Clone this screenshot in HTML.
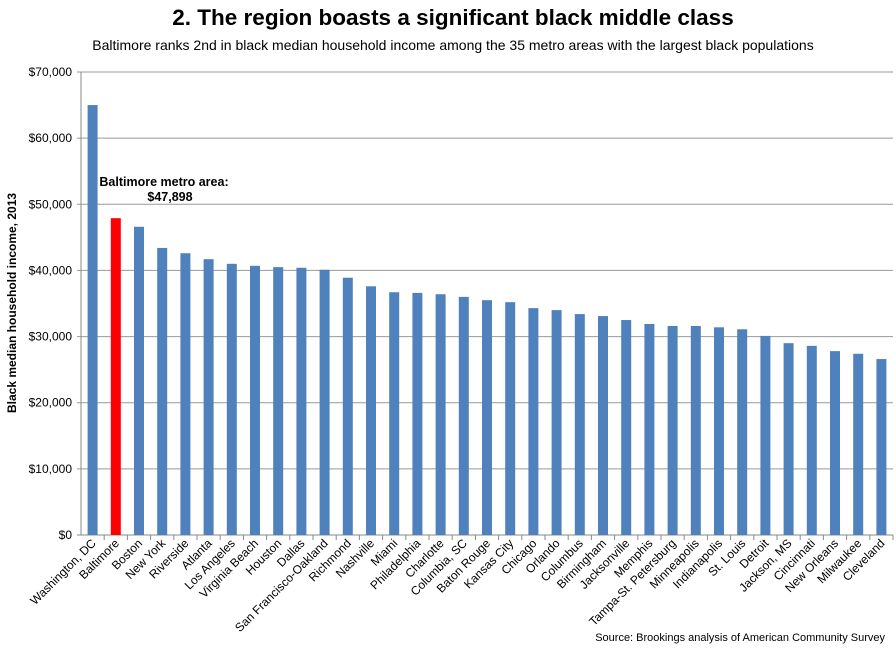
<!DOCTYPE html>
<html><head><meta charset="utf-8"><style>
body{margin:0;background:#fff;width:896px;height:648px;overflow:hidden}
svg{font-family:"Liberation Sans",Arial,sans-serif}
</style></head><body>
<svg id="chart" width="896" height="648">
<text x="453" y="25" text-anchor="middle" font-size="22.5" font-weight="bold">2. The region boasts a significant black middle class</text>
<text x="453" y="50" text-anchor="middle" font-size="14">Baltimore ranks 2nd in black median household income among the 35 metro areas with the largest black populations</text>
<text transform="translate(16,303) rotate(-90)" text-anchor="middle" font-size="12" font-weight="bold">Black median household income, 2013</text>
<text x="885" y="641" text-anchor="end" font-size="11">Source: Brookings analysis of American Community Survey</text>
<text x="164" y="186" text-anchor="middle" font-size="12.5" font-weight="bold">Baltimore metro area:</text>
<text x="170" y="201" text-anchor="middle" font-size="12.5" font-weight="bold">$47,898</text>
<g id="grid"></g><g id="bars"></g><g id="axes"></g>
</svg>
<script>
const categories=["Washington, DC","Baltimore","Boston","New York","Riverside","Atlanta","Los Angeles","Virginia Beach","Houston","Dallas","San Francisco-Oakland","Richmond","Nashville","Miami","Philadelphia","Charlotte","Columbia, SC","Baton Rouge","Kansas City","Chicago","Orlando","Columbus","Birmingham","Jacksonville","Memphis","Tampa-St. Petersburg","Minneapolis","Indianapolis","St. Louis","Detroit","Jackson, MS","Cincinnati","New Orleans","Milwaukee","Cleveland"];
const incomes=[65000,47898,46600,43400,42600,41700,41000,40700,40500,40400,40100,38900,37600,36700,36600,36400,36000,35500,35200,34300,34000,33400,33100,32500,31900,31600,31600,31400,31100,30100,29000,28600,27800,27400,26600];
const yTicks=[0,10000,20000,30000,40000,50000,60000,70000];
const highlight="Baltimore";
const NS="http://www.w3.org/2000/svg";
const x0=81,x1=893,yB=535,yT=72,yMax=70000;
const step=(x1-x0)/categories.length;
const y=v=>yB-(v/yMax)*(yB-yT);
const xc=i=>x0+step*(i+0.5);
function mk(t,a,p){const e=document.createElementNS(NS,t);for(const k in a)e.setAttribute(k,a[k]);document.getElementById(p).appendChild(e);return e;}
yTicks.forEach(v=>{
 const l=mk("line",{x1:x0-4,x2:x1,y1:y(v),y2:y(v),stroke:v===0?"#888":"#999","stroke-width":1},"grid");
 
 
 const t=mk("text",{x:x0-9,y:y(v)+4,"text-anchor":"end","font-size":12},"axes");
 t.textContent="$"+v.toLocaleString("en-US");
 
 
});
const ax=mk("line",{x1:x0,x2:x0,y1:yT,y2:yB,stroke:"#888"},"axes");


categories.forEach((c,i)=>{
 const r=mk("rect",{x:xc(i)-5,y:y(incomes[i]),width:10,height:yB-y(incomes[i]),fill:c===highlight?"#ff0000":"#4f81bd"},"bars");
 
 
 const tk=mk("line",{x1:x0+step*(i+1),x2:x0+step*(i+1),y1:yB,y2:yB+5,stroke:"#888"},"axes");
 
 
 const t=mk("text",{transform:`translate(${xc(i)+4},${yB+9}) rotate(-45)`,"text-anchor":"end","font-size":12},"axes");
 t.textContent=c;
 
 
});
</script>
</body></html>
